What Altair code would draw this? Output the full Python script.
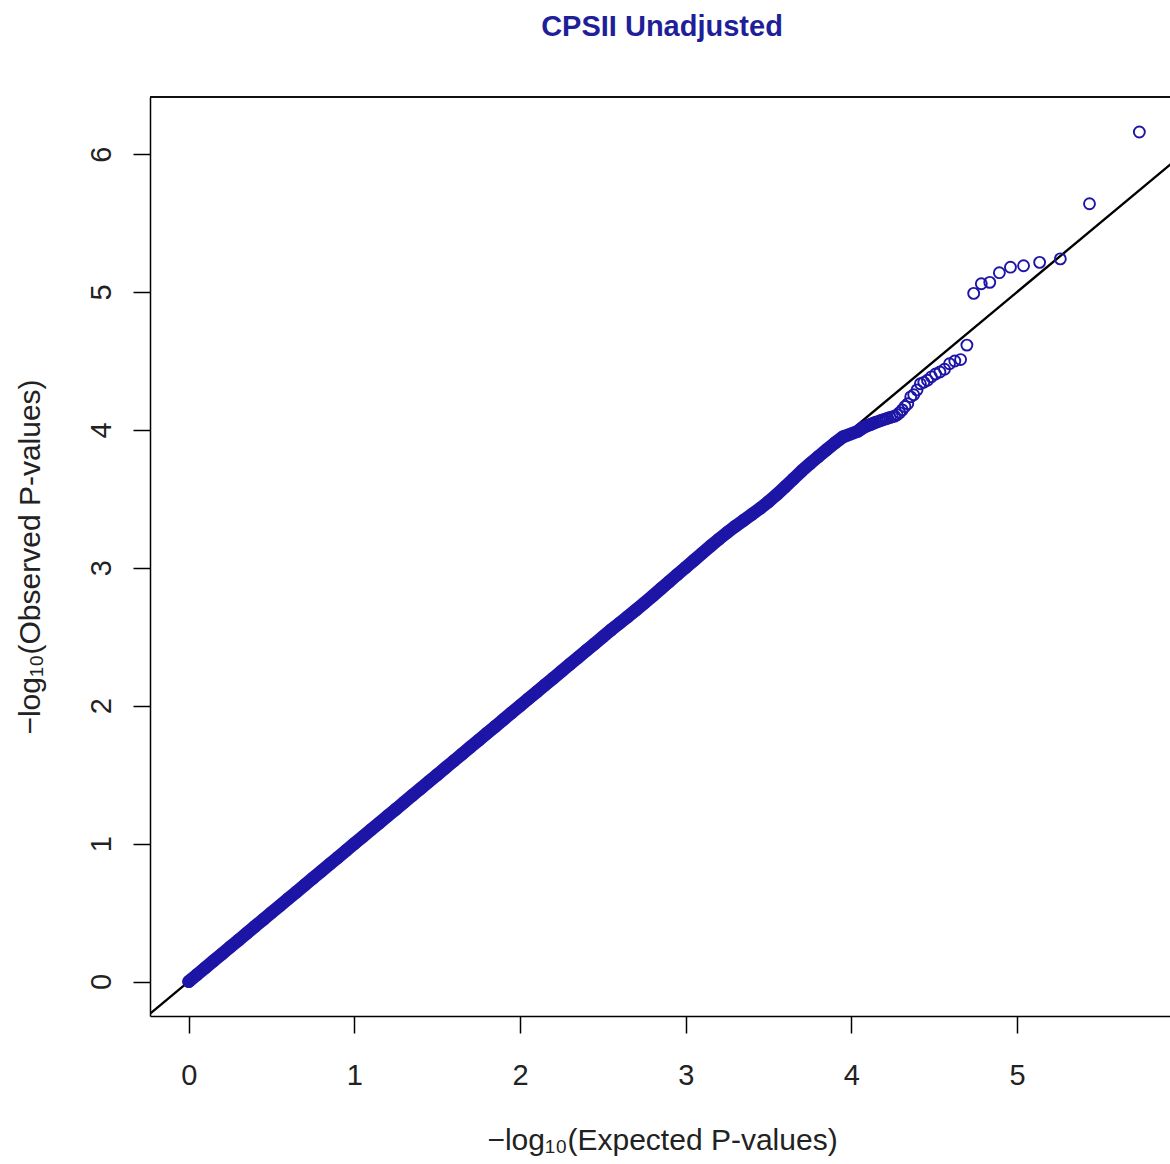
import altair as alt
import pandas as pd

# Dense part of the QQ cloud: expected vs observed -log10(p)
band_expected = [
    0.00, 0.05, 0.10, 0.15, 0.20, 0.25, 0.30, 0.35, 0.40, 0.45,
    0.50, 0.55, 0.60, 0.65, 0.70, 0.75, 0.80, 0.85, 0.90, 0.95,
    1.00, 1.05, 1.10, 1.15, 1.20, 1.25, 1.30, 1.35, 1.40, 1.45,
    1.50, 1.55, 1.60, 1.65, 1.70, 1.75, 1.80, 1.85, 1.90, 1.95,
    2.00, 2.05, 2.10, 2.15, 2.20, 2.25, 2.30, 2.35, 2.40, 2.45,
    2.50, 2.55, 2.60, 2.65, 2.70, 2.75, 2.80, 2.85, 2.90, 2.95,
    3.00, 3.05, 3.10, 3.15, 3.20, 3.25, 3.30, 3.35, 3.40, 3.45,
    3.50, 3.55, 3.60, 3.65, 3.70, 3.75, 3.80, 3.85, 3.90, 3.95,
]
band_observed = [
    0.00, 0.05, 0.10, 0.15, 0.20, 0.25, 0.30, 0.35, 0.40, 0.45,
    0.50, 0.55, 0.60, 0.65, 0.70, 0.75, 0.80, 0.85, 0.90, 0.95,
    1.00, 1.05, 1.10, 1.15, 1.20, 1.25, 1.30, 1.35, 1.40, 1.45,
    1.50, 1.55, 1.60, 1.65, 1.70, 1.75, 1.80, 1.85, 1.90, 1.95,
    2.00, 2.05, 2.10, 2.15, 2.20, 2.25, 2.30, 2.35, 2.40, 2.45,
    2.50, 2.55, 2.598, 2.646, 2.695, 2.745, 2.796, 2.848, 2.90, 2.952,
    3.003, 3.055, 3.107, 3.158, 3.208, 3.256, 3.302, 3.345, 3.388, 3.432,
    3.48, 3.532, 3.588, 3.645, 3.702, 3.755, 3.806, 3.856, 3.905, 3.95,
]

# Most significant markers (top ranks)
tail_expected = [
    5.738, 5.437, 5.261, 5.136, 5.039, 4.960, 4.893, 4.835, 4.784, 4.738,
    4.697, 4.659, 4.624, 4.592, 4.562, 4.534, 4.508, 4.483, 4.459, 4.437,
    4.416, 4.396, 4.376, 4.358, 4.340, 4.323, 4.307, 4.291, 4.276, 4.261,
    4.247, 4.233, 4.219, 4.207, 4.194, 4.182, 4.170, 4.158, 4.147, 4.136,
    4.115, 4.095, 4.075, 4.057, 4.039,
]
tail_observed = [
    6.16, 5.64, 5.24, 5.215, 5.19, 5.18, 5.14, 5.07, 5.06, 4.99,
    4.615, 4.51, 4.50, 4.48, 4.44, 4.42, 4.405, 4.385, 4.36, 4.345,
    4.335, 4.29, 4.255, 4.24, 4.19, 4.17, 4.145, 4.125, 4.11, 4.10,
    4.095, 4.09, 4.085, 4.08, 4.075, 4.07, 4.065, 4.06, 4.055, 4.05,
    4.04, 4.03, 4.02, 4.005, 3.99,
]

# y = x reference line
ref_x = [-0.5, 6.5]

points = pd.DataFrame({
    "expected": band_expected + tail_expected,
    "observed": band_observed + tail_observed,
})
dense = points[points["expected"] <= 4.14].sort_values("expected")
ref = pd.DataFrame({"expected": ref_x, "observed": ref_x})

W, H = 1020, 919
POINT_COLOR = "#1d15a5"
FONT = "Liberation Sans"

x_enc = alt.X(
    "expected:Q",
    scale=alt.Scale(domain=[-0.234, 5.923], nice=False, zero=False),
    axis=alt.Axis(
        values=[0, 1, 2, 3, 4, 5], format="d", grid=False,
        title="−log₁₀(Expected P-values)",
        tickSize=17, labelPadding=42, labelBaseline="middle",
        titleX=512, titleY=124, titleAlign="center", titleBaseline="middle",
    ),
)
y_enc = alt.Y(
    "observed:Q",
    scale=alt.Scale(domain=[-0.25, 6.414], nice=False, zero=False),
    axis=alt.Axis(
        values=[0, 1, 2, 3, 4, 5, 6], format="d", grid=False,
        title="−log₁₀(Observed P-values)",
        tickSize=17, labelPadding=32, labelAngle=270,
        labelAlign="center", labelBaseline="middle",
        titleX=-120, titleY=H / 2, titleAngle=270,
        titleAlign="center", titleBaseline="middle",
    ),
)

ref_line = alt.Chart(ref).mark_line(color="black", strokeWidth=2.4, clip=True).encode(
    x=x_enc, y=y_enc
)
band = alt.Chart(dense).mark_line(
    color=POINT_COLOR, strokeWidth=13, strokeCap="round", strokeJoin="round", clip=True
).encode(x=x_enc, y=y_enc, order="expected:Q")
rings = alt.Chart(points).mark_point(
    shape="circle", filled=False, size=120, strokeWidth=1.9, color=POINT_COLOR,
    opacity=1, clip=True,
).encode(x=x_enc, y=y_enc)
top_border = alt.Chart(ref).mark_rule(color="black", strokeWidth=1.5).encode(
    x=alt.value(0), x2=alt.value(W), y=alt.value(0)
)

chart = alt.layer(ref_line, band, rings, top_border).properties(
    width=W,
    height=H,
    title=alt.TitleParams(
        "CPSII Unadjusted", fontSize=29, fontWeight="bold", color="#1f1f9a",
        font=FONT, anchor="middle", frame="group", dx=2, offset=31,
        baseline="alphabetic",
    ),
    autosize=alt.AutoSizeParams(type="none"),
    padding={"left": 150, "top": 97, "right": 0, "bottom": 148},
    background="white",
).configure_view(stroke=None).configure_axis(
    domainColor="black", domainWidth=1.5, tickColor="black", tickWidth=1.5,
    labelFont=FONT, labelFontSize=29, labelColor="#222222",
    titleFont=FONT, titleFontSize=30, titleFontWeight="normal", titleColor="#222222",
)

chart.save("out.html", embed_options={"renderer": "svg", "actions": False})
